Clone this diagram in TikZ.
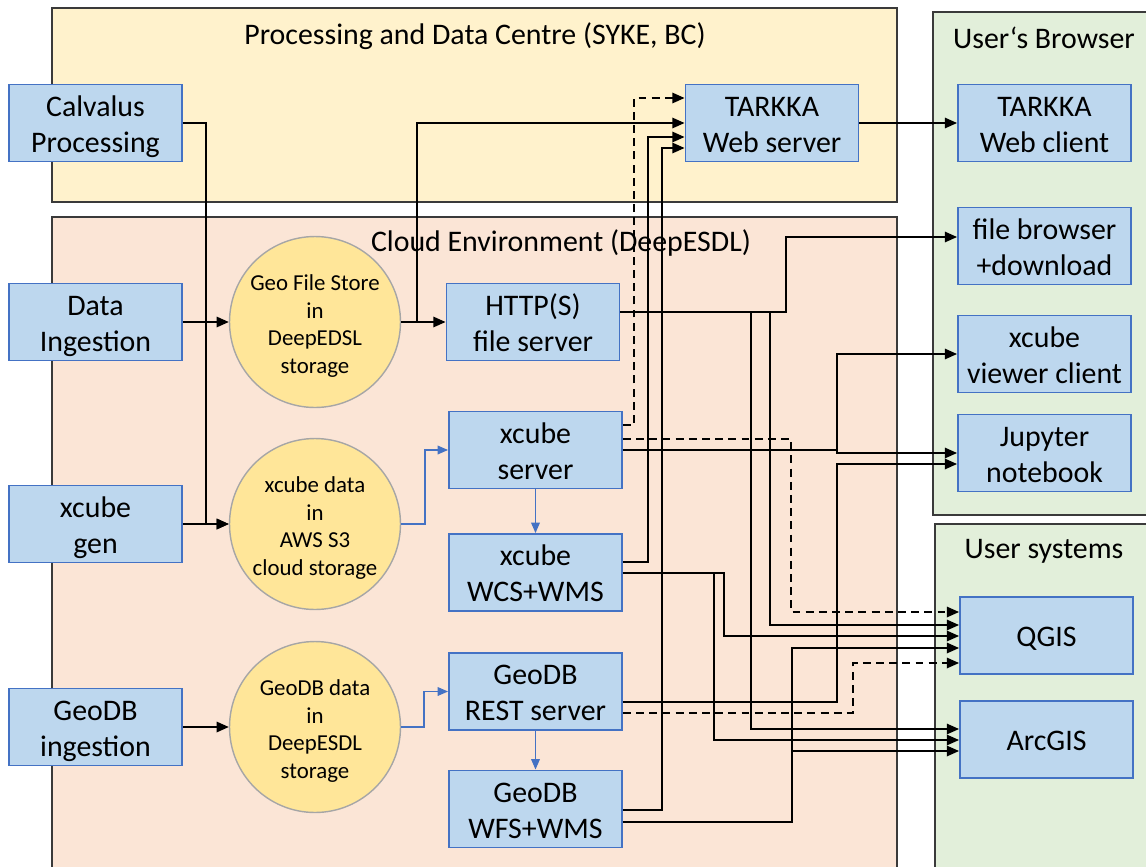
\documentclass[tikz,border=0pt]{standalone}
\usepackage{fontspec}
\setmainfont{Carlito}
\usetikzlibrary{arrows.meta}

\definecolor{procfill}{HTML}{FFF2CC}
\definecolor{cloudfill}{HTML}{FBE5D6}
\definecolor{userfill}{HTML}{E2EFDA}
\definecolor{boxfill}{HTML}{BDD7EE}
\definecolor{boxline}{HTML}{4472C4}
\definecolor{storefill}{HTML}{FFE699}
\definecolor{storeline}{HTML}{A6A6A6}
\definecolor{frameline}{HTML}{3A3A3A}

\begin{document}
\begin{tikzpicture}[x=0.02cm, y=-0.02cm]
    \tikzstyle{frame} = [draw=frameline, line width=1.1pt]
    \tikzstyle{title} = [inner sep=0pt, font=\fontsize{17pt}{20.5pt}\selectfont]
    \tikzstyle{box} = [rectangle, draw=boxline, fill=boxfill, line width=1.1pt, minimum width=3.46cm, minimum height=1.54cm, align=center, inner sep=0pt, text height=33.4pt, text depth=0pt, font=\fontsize{17pt}{20.5pt}\selectfont]
    \tikzstyle{onebox} = [box, text height=12.9pt]
    \tikzstyle{store} = [circle, draw=storeline, fill=storefill, line width=0.8pt, minimum size=3.42cm, align=center, inner sep=0pt, text height=58.4pt, text depth=0pt, font=\fontsize{13pt}{15.7pt}\selectfont]
    \tikzstyle{conn} = [draw=black, line width=0.9pt, -{Triangle[length=7pt,width=6pt]}]
    \tikzstyle{dconn} = [conn, dash pattern=on 4.5pt off 3pt]
    \tikzstyle{bconn} = [draw=boxline, line width=0.7pt, -{Triangle[length=6pt,width=5pt]}]

    \useasboundingbox (0,0) rectangle (1146,866);

    \draw[frame, fill=procfill] (52,8) rectangle (897,202);
    \draw[frame, fill=cloudfill] (52,217) rectangle (897,880);
    \draw[frame, fill=userfill] (933,12) rectangle (1160,515);
    \draw[frame, fill=userfill] (935,524) rectangle (1160,880);

    \node[title] (proctitle) at (475,36) {Processing and Data Centre (SYKE, BC)};
    \node[title] (cloudtitle) at (561,243) {Cloud Environment (DeepESDL)};
    \node[title] (brtitle) at (1044,38) {User‘s Browser};
    \node[title] (ustitle) at (1044,551) {User systems};

    \node[box] (calv) at (95.5,123) {Calvalus\\Processing};
    \node[box] (ingest) at (95.5,322) {Data\\Ingestion};
    \node[box] (xgen) at (95.5,524) {xcube\\gen};
    \node[box] (gingest) at (95.5,727) {GeoDB\\ingestion};

    \node[store] (gfs) at (315,322) {Geo File Store\\in\\DeepEDSL\\storage};
    \node[store] (xdata) at (315,524) {xcube data\\in\\AWS S3\\cloud storage};
    \node[store] (gdata) at (315,727) {GeoDB data\\in\\DeepESDL\\storage};

    \node[box] (tsrv) at (772,123) {TARKKA\\Web server};
    \node[box] (http) at (533,322) {HTTP(S)\\file server};
    \node[box] (xsrv) at (535.5,450) {xcube\\server};
    \node[box] (xwcs) at (535.5,572.5) {xcube\\WCS+WMS};
    \node[box] (grest) at (535.5,691.5) {GeoDB\\REST server};
    \node[box] (gwfs) at (535.5,809) {GeoDB\\WFS+WMS};

    \node[box] (tcli) at (1044.5,123) {TARKKA\\Web client};
    \node[box] (fbrow) at (1044.5,246) {file browser\\+download};
    \node[box] (xview) at (1044.5,354) {xcube\\viewer client};
    \node[box] (jup) at (1044.5,453) {Jupyter\\notebook};
    \node[onebox] (qgis) at (1046.5,635.5) {QGIS};
    \node[onebox] (arcgis) at (1046.5,739.5) {ArcGIS};

    \draw[conn] (calv.east) -| (206,524) -- (xdata.west);
    \draw[conn] (ingest) -- (gfs);
    \draw[conn] (xgen) -- (xdata);
    \draw[conn] (gingest) -- (gdata);
    \draw[conn] (gfs) -- (http);
    \draw[conn] (gfs.east) -| (417,123) -- (tsrv.west);

    \draw[bconn] (xdata.east) -| (425,450) -- (xsrv.west);
    \draw[bconn] (gdata.east) -| (424,691.5) -- (grest.west);
    \draw[bconn] (xsrv) -- (xwcs);
    \draw[bconn] (grest) -- (gwfs);

    \draw[conn] (tsrv) -- (tcli);
    \draw[dconn] (xsrv.east |- 0,425) -| (634,98) -- (tsrv.west |- 0,98);
    \draw[conn] (xwcs.east |- 0,562) -| (648,137) -- (tsrv.west |- 0,137);
    \draw[conn] (gwfs.east |- 0,810) -| (662,148) -- (tsrv.west |- 0,148);

    \draw[conn] (http.east |- 0,312) -| (786,237) -- (fbrow.west |- 0,237);
    \draw[conn] (http.east |- 0,312) -| (770,625) -- (qgis.west |- 0,625);
    \draw[conn] (http.east |- 0,312) -| (751,729) -- (arcgis.west |- 0,729);

    \draw[conn] (xsrv.east) -| (837,354) -- (xview.west);
    \draw[conn] (xsrv.east) -- (837,450) |- (jup.west |- 0,453);
    \draw[dconn] (xsrv.east |- 0,439) -| (791,612) -- (qgis.west |- 0,612);

    \draw[conn] (grest.east |- 0,702) -| (837,464) -- (jup.west |- 0,464);
    \draw[dconn] (grest.east |- 0,713) -| (853,663) -- (qgis.west |- 0,663);

    \draw[conn] (xwcs.east |- 0,573) -| (724,636) -- (qgis.west |- 0,636);
    \draw[conn] (xwcs.east |- 0,573) -| (714,740) -- (arcgis.west |- 0,740);

    \draw[conn] (gwfs.east |- 0,822) -| (792,648) -- (qgis.west |- 0,648);
    \draw[conn] (gwfs.east |- 0,822) -| (792,751) -- (arcgis.west |- 0,751);
\end{tikzpicture}
\end{document}
